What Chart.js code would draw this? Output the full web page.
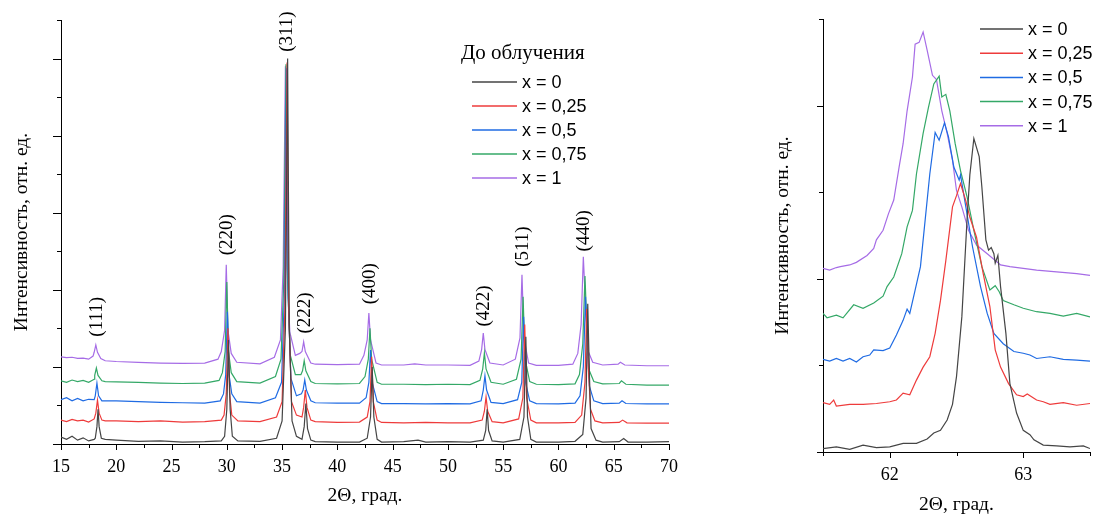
<!DOCTYPE html>
<html>
<head>
<meta charset="utf-8">
<script src="https://cdn.jsdelivr.net/npm/chart.js@4.4.1/dist/chart.umd.min.js"></script>
<style>
  body { margin: 0; background: #fff; overflow: hidden; }
  #left { position: absolute; left: 0; top: 0; width: 700px; height: 515px; }
  #right { position: absolute; left: 740px; top: 0; width: 362px; height: 515px; }
</style>
</head>
<body>
<div id="left"><canvas id="xrdFull"></canvas></div>
<div id="right"><canvas id="xrdZoom"></canvas></div>
<script>
// series names and colours
var seriesLabels = ['x = 0', 'x = 0,25', 'x = 0,5', 'x = 0,75', 'x = 1'];
var seriesColors = ['#454545', '#ee3b3b', '#1f6be3', '#34a867', '#a66ce6'];

// full pattern, 2Theta 15..70 (pairs [angle, intensity], offset curves)
var full0 = [[15,0.18],[15.5,0.12],[16,0.2],[16.5,0.1],[17,0.16],[17.5,0.08],[18,0.12],
  [18.1,0.15],[18.25,0.45],[18.35,0.9],[18.45,0.45],[18.65,0.15],
  [19,0.12],[20,0.1],[22,0.07],[24,0.08],[26,0.05],[28,0.06],[29.5,0.08],
  [29.8,0.2],[30.0,0.9],[30.15,2.7],[30.3,0.9],[30.5,0.2],
  [31,0.08],[33,0.07],[34.5,0.15],[35.0,0.6],
  [35.3,3.0],[35.5,10.0],[35.65,3.0],[35.9,0.6],[36.3,0.2],[36.8,0.12],
  [37.0,0.45],[37.15,1.05],[37.3,0.4],[37.6,0.1],
  [38,0.06],[40,0.05],[42,0.05],[42.7,0.15],
  [43.0,0.7],[43.15,2.0],[43.3,0.7],[43.6,0.12],
  [44,0.05],[46,0.06],[47.3,0.1],[48,0.05],[50,0.06],[52,0.05],[53.2,0.1],
  [53.42,0.35],[53.55,0.9],[53.68,0.35],[54,0.08],
  [55,0.05],[56.5,0.12],
  [56.88,0.7],[57.05,2.78],[57.2,0.7],[57.5,0.12],
  [58,0.05],[60,0.05],[61.5,0.07],[62.2,0.25],
  [62.5,1.2],[62.65,3.64],[62.8,1.8],[62.95,0.4],[63.4,0.1],
  [64,0.05],[65.5,0.06],[65.9,0.14],[66.3,0.05],[68,0.05],[70,0.06]];
var full1 = [[15,0.62],[15.5,0.58],[16,0.64],[16.5,0.6],[17,0.62],[17.5,0.57],[18,0.65],
  [18.15,0.8],[18.3,1.14],[18.45,0.8],[18.7,0.62],
  [19,0.6],[20,0.6],[22,0.58],[24,0.6],[26,0.57],[28,0.58],[29.5,0.62],
  [29.75,0.75],[29.95,1.3],[30.1,3.0],[30.25,1.3],[30.45,0.75],
  [31,0.6],[33,0.58],[34.5,0.7],[35.0,1.1],
  [35.25,3.5],[35.45,9.9],[35.6,3.5],[35.85,1.1],[36.3,0.75],[36.8,0.7],
  [36.95,0.95],[37.1,1.4],[37.25,0.95],[37.6,0.62],
  [38,0.58],[40,0.56],[42,0.57],[42.7,0.7],
  [42.95,1.1],[43.1,2.26],[43.25,1.1],[43.6,0.62],
  [44,0.56],[46,0.55],[48,0.56],[50,0.55],[52,0.55],[53.1,0.62],
  [53.3,0.85],[53.45,1.22],[53.6,0.85],[54,0.58],
  [55,0.55],[56.4,0.65],
  [56.78,1.2],[56.95,3.1],[57.12,1.2],[57.5,0.62],
  [58,0.55],[60,0.55],[61.5,0.56],[62.1,0.75],
  [62.4,1.6],[62.55,3.5],[62.7,2.0],[62.9,0.9],[63.3,0.6],
  [64,0.55],[65.5,0.56],[65.8,0.62],[66.2,0.55],[68,0.54],[70,0.54]];
var full2 = [[15,1.15],[15.5,1.2],[16,1.12],[16.5,1.18],[17,1.12],[17.5,1.16],[18,1.15],
  [18.1,1.25],[18.25,1.58],[18.4,1.25],[18.7,1.12],
  [19,1.12],[20,1.12],[22,1.1],[24,1.08],[26,1.07],[28,1.06],[29.4,1.12],
  [29.7,1.3],[29.9,1.8],[30.05,3.43],[30.2,1.8],[30.45,1.3],[30.9,1.1],
  [33,1.06],[34.4,1.2],[34.95,1.6],
  [35.2,3.8],[35.4,9.75],[35.55,3.8],[35.8,1.7],[36.3,1.25],[36.75,1.3],
  [36.9,1.4],[37.05,1.66],[37.2,1.4],[37.6,1.12],
  [38,1.07],[40,1.06],[42,1.06],[42.6,1.2],
  [42.85,1.6],[43.0,2.44],[43.15,1.6],[43.6,1.1],
  [44,1.05],[46,1.05],[48,1.04],[50,1.05],[52,1.04],[53.0,1.12],
  [53.2,1.4],[53.35,1.77],[53.5,1.4],[53.9,1.08],
  [55,1.05],[56.3,1.15],
  [56.68,1.6],[56.85,3.3],[57.02,1.6],[57.4,1.12],
  [58,1.05],[60,1.04],[61.5,1.06],[61.95,1.25],
  [62.25,2.0],[62.45,3.82],[62.6,2.6],[62.8,1.5],[63.2,1.12],
  [64,1.05],[65.5,1.06],[65.75,1.12],[66.1,1.05],[68,1.04],[70,1.04]];
var full3 = [[15,1.64],[15.5,1.6],[16,1.66],[16.5,1.62],[17,1.65],[17.5,1.6],[18,1.68],
  [18.05,1.78],[18.2,1.97],[18.35,1.78],[18.7,1.64],
  [19,1.62],[20,1.61],[22,1.6],[24,1.58],[26,1.57],[28,1.58],[29.3,1.65],
  [29.6,1.85],[29.85,2.4],[30.0,4.2],[30.15,2.4],[30.4,1.85],[30.9,1.62],
  [33,1.58],[34.4,1.75],[34.9,2.2],
  [35.15,4.2],[35.35,9.85],[35.5,4.2],[35.75,2.3],[36.2,1.8],[36.7,1.8],
  [36.85,1.9],[37.0,2.16],[37.15,1.9],[37.6,1.62],
  [38,1.57],[40,1.56],[42,1.57],[42.5,1.75],
  [42.8,2.2],[42.95,3.0],[43.1,2.2],[43.6,1.6],
  [44,1.55],[46,1.55],[48,1.54],[50,1.55],[52,1.54],[52.9,1.65],
  [53.15,1.95],[53.3,2.36],[53.45,1.95],[53.9,1.6],
  [55,1.55],[56.2,1.68],
  [56.62,2.2],[56.8,3.82],[56.98,2.2],[57.4,1.62],
  [58,1.55],[60,1.54],[61.5,1.56],[61.9,1.8],
  [62.2,2.6],[62.4,4.36],[62.55,3.2],[62.8,1.9],[63.2,1.62],
  [64,1.56],[65.5,1.57],[65.7,1.64],[66.1,1.55],[68,1.53],[70,1.53]];
var full4 = [[15,2.26],[15.5,2.24],[16,2.25],[16.5,2.22],[17,2.23],[17.5,2.2],[17.9,2.28],
  [18.0,2.38],[18.15,2.57],[18.3,2.38],[18.6,2.22],
  [19,2.16],[20,2.14],[22,2.12],[24,2.1],[26,2.09],[28,2.1],[29.2,2.2],
  [29.5,2.4],[29.8,2.95],[29.95,4.65],[30.1,2.95],[30.4,2.35],[30.9,2.12],
  [33,2.08],[34.3,2.25],[34.85,2.7],
  [35.1,4.6],[35.3,9.8],[35.45,4.6],[35.7,2.9],[36.2,2.3],[36.6,2.35],
  [36.8,2.4],[36.95,2.65],[37.1,2.4],[37.6,2.1],
  [38,2.07],[40,2.06],[42,2.07],[42.4,2.3],
  [42.7,2.7],[42.85,3.4],[43.0,2.7],[43.5,2.1],
  [44,2.05],[46,2.05],[47,2.08],[48,2.05],[50,2.05],[52,2.04],[52.8,2.15],
  [53.05,2.45],[53.2,2.88],[53.35,2.45],[53.8,2.1],
  [55,2.05],[56.1,2.2],
  [56.52,2.75],[56.7,4.39],[56.88,2.75],[57.3,2.1],
  [58,2.04],[60,2.04],[61.3,2.07],[61.75,2.35],
  [62.05,3.1],[62.25,4.86],[62.45,3.6],[62.7,2.4],[63.1,2.12],
  [64,2.05],[65.4,2.07],[65.6,2.12],[66,2.05],[68,2.03],[70,2.03]];

// zoom on the (440) reflection, 2Theta 61.5..63.5
var zoom0 = [[61.5,0.04],[61.6,0.06],[61.7,0.03],[61.8,0.08],[61.9,0.05],[62.0,0.06],[62.1,0.1],[62.2,0.1],
  [62.28,0.15],[62.33,0.22],[62.38,0.25],[62.43,0.37],[62.47,0.55],[62.5,0.87],[62.54,1.56],[62.58,2.71],
  [62.6,3.2],[62.63,3.62],[62.67,3.41],[62.69,3.06],[62.72,2.45],[62.74,2.33],[62.76,2.36],[62.78,2.29],
  [62.79,2.18],[62.81,2.27],[62.83,1.91],[62.87,1.37],[62.9,0.79],[62.95,0.45],[63.0,0.25],[63.05,0.2],
  [63.08,0.14],[63.15,0.08],[63.25,0.07],[63.35,0.06],[63.45,0.07],[63.5,0.04]];
var zoom1 = [[61.5,0.57],[61.55,0.55],[61.58,0.6],[61.6,0.53],[61.7,0.55],[61.8,0.55],[61.9,0.56],[62.0,0.58],
  [62.05,0.6],[62.1,0.68],[62.15,0.66],[62.2,0.83],[62.25,0.98],[62.3,1.1],[62.34,1.37],[62.38,1.75],
  [62.42,2.21],[62.47,2.83],[62.5,2.96],[62.53,3.1],[62.57,2.9],[62.6,2.71],[62.65,2.48],[62.7,2.06],
  [62.75,1.68],[62.79,1.18],[62.83,0.98],[62.89,0.79],[62.95,0.66],[63.0,0.64],[63.03,0.67],[63.1,0.6],
  [63.15,0.58],[63.2,0.55],[63.3,0.57],[63.4,0.54],[63.5,0.56]];
var zoom2 = [[61.5,1.07],[61.55,1.05],[61.6,1.08],[61.65,1.05],[61.7,1.08],[61.75,1.04],[61.8,1.1],[61.85,1.12],
  [61.88,1.18],[61.95,1.17],[62.0,1.2],[62.05,1.35],[62.1,1.52],[62.13,1.65],[62.15,1.6],[62.19,1.87],
  [62.23,2.14],[62.26,2.6],[62.3,3.21],[62.34,3.69],[62.37,3.6],[62.41,3.8],[62.44,3.64],[62.48,3.29],
  [62.52,3.14],[62.53,3.2],[62.57,2.83],[62.62,2.37],[62.68,1.91],[62.73,1.6],[62.78,1.37],[62.85,1.25],
  [62.93,1.16],[63.0,1.14],[63.05,1.12],[63.1,1.08],[63.2,1.1],[63.3,1.07],[63.4,1.06],[63.5,1.05]];
var zoom3 = [[61.5,1.6],[61.53,1.55],[61.6,1.58],[61.65,1.55],[61.73,1.7],[61.8,1.66],[61.88,1.72],[61.95,1.8],
  [61.98,1.91],[62.03,2.02],[62.09,2.29],[62.13,2.6],[62.17,2.79],[62.2,3.21],[62.25,3.68],[62.29,3.98],
  [62.33,4.25],[62.37,4.34],[62.39,4.1],[62.42,4.13],[62.45,3.94],[62.49,3.56],[62.53,3.25],[62.58,2.94],
  [62.63,2.56],[62.69,2.14],[62.75,1.87],[62.79,1.92],[62.82,1.85],[62.85,1.75],[62.93,1.7],[63.0,1.66],
  [63.1,1.62],[63.2,1.6],[63.3,1.57],[63.4,1.6],[63.5,1.56]];
var zoom4 = [[61.5,2.12],[61.55,2.1],[61.6,2.13],[61.63,2.14],[61.7,2.16],[61.75,2.19],[61.83,2.27],[61.88,2.35],
  [61.9,2.45],[61.95,2.56],[61.99,2.75],[62.03,2.91],[62.07,3.29],[62.1,3.56],[62.13,3.94],[62.17,4.33],
  [62.19,4.71],[62.22,4.73],[62.25,4.85],[62.28,4.64],[62.32,4.35],[62.35,4.3],[62.39,3.94],[62.43,3.68],
  [62.47,3.37],[62.5,3.02],[62.54,2.83],[62.59,2.56],[62.65,2.39],[62.73,2.29],[62.83,2.16],[62.9,2.14],
  [63.0,2.12],[63.1,2.1],[63.25,2.08],[63.4,2.06],[63.5,2.04]];

// Miller indices and where their labels sit (angle, level)
var peakNames = ['(111)', '(220)', '(311)', '(222)', '(400)', '(422)', '(511)', '(440)'];
var peakAngles = [18.26, 30.02, 35.44, 37.07, 42.95, 53.26, 56.79, 62.31];
var peakLevels = [3.3, 5.43, 10.7, 3.4, 4.16, 3.58, 5.12, 5.53];

// tick marks
var fullXTicks = [15, 17.5, 20, 22.5, 25, 27.5, 30, 32.5, 35, 37.5, 40, 42.5, 45, 47.5, 50, 52.5, 55, 57.5, 60, 62.5, 65, 67.5, 70];
var fullXMajor = [15, 20, 25, 30, 35, 40, 45, 50, 55, 60, 65, 70];
var fullYTicks = [0, 1, 2, 3, 4, 5, 6, 7, 8, 9, 10, 11];
var fullYMajor = [0, 2, 4, 6, 8, 10];
var zoomXTicks = [61.5, 62, 62.5, 63, 63.5];
var zoomXMajor = [62, 63];
var zoomYTicks = [0, 1, 2, 3, 4, 5];
var zoomYMajor = [0, 2, 4];

var SERIF = '"Liberation Serif", "Times New Roman", serif';
var SANS = '"Liberation Sans", Arial, sans-serif';

function toPoints(pairs) {
    return pairs.map(function(p) { return { x: p[0], y: p[1] }; });
}

function makeDatasets(list) {
    return list.map(function(pairs, i) {
        return {
            label: seriesLabels[i],
            data: toPoints(pairs),
            borderColor: seriesColors[i],
            borderWidth: 1.2,
            pointRadius: 0,
            tension: 0,
            fill: false
        };
    });
}

// small tick marks (major longer than minor), drawn outward
var tickMarks = {
    id: 'tickMarks',
    afterDraw: function(chart, args, o) {
        var ctx = chart.ctx, a = chart.chartArea;
        var xs = chart.scales.x, ys = chart.scales.y;
        ctx.save();
        ctx.strokeStyle = '#000';
        ctx.lineWidth = 1;
        ctx.beginPath();
        o.xTicks.forEach(function(v) {
            var px = Math.round(xs.getPixelForValue(v)) + 0.5;
            var len = o.xMajor.indexOf(v) >= 0 ? o.majorLen : o.minorLen;
            ctx.moveTo(px, a.bottom);
            ctx.lineTo(px, a.bottom + len);
        });
        o.yTicks.forEach(function(v) {
            var py = Math.round(ys.getPixelForValue(v)) + 0.5;
            var len = o.yMajor.indexOf(v) >= 0 ? o.yMajorLen : o.minorLen;
            ctx.moveTo(a.left, py);
            ctx.lineTo(a.left - len, py);
        });
        ctx.stroke();
        ctx.restore();
    }
};

// vertical hkl labels above peaks
var peakTags = {
    id: 'peakTags',
    afterDraw: function(chart, args, o) {
        if (!o.names) return;
        var ctx = chart.ctx;
        ctx.save();
        ctx.fillStyle = '#000';
        ctx.font = '19px ' + SERIF;
        ctx.textAlign = 'center';
        ctx.textBaseline = 'middle';
        o.names.forEach(function(name, i) {
            var px = chart.scales.x.getPixelForValue(o.angles[i]);
            var py = chart.scales.y.getPixelForValue(o.levels[i]);
            ctx.save();
            ctx.translate(px, py);
            ctx.rotate(-Math.PI / 2);
            ctx.fillText(name, 0, 0);
            ctx.restore();
        });
        ctx.restore();
    }
};

// legend placed freely inside the plot
var freeLegend = {
    id: 'freeLegend',
    afterDraw: function(chart, args, o) {
        var ctx = chart.ctx;
        ctx.save();
        if (o.title) {
            ctx.fillStyle = '#000';
            ctx.font = '21px ' + SERIF;
            ctx.textAlign = 'left';
            ctx.textBaseline = 'middle';
            ctx.fillText(o.title, o.titleX, o.titleY);
        }
        chart.data.datasets.forEach(function(ds, i) {
            var y = o.y + i * o.dy;
            ctx.strokeStyle = ds.borderColor;
            ctx.lineWidth = 1.5;
            ctx.beginPath();
            ctx.moveTo(o.x, y);
            ctx.lineTo(o.x + o.lineLen, y);
            ctx.stroke();
            ctx.fillStyle = '#000';
            ctx.font = '18px ' + SANS;
            ctx.textAlign = 'left';
            ctx.textBaseline = 'middle';
            ctx.fillText(ds.label, o.x + o.lineLen + 5, y + 1);
        });
        ctx.restore();
    }
};

function buildChart(id, datasets, cfg) {
    return new Chart(document.getElementById(id), {
        type: 'line',
        data: { datasets: datasets },
        options: {
            responsive: true,
            maintainAspectRatio: false,
            animation: false,
            layout: { padding: cfg.padding },
            scales: {
                x: {
                    type: 'linear',
                    min: cfg.xMin, max: cfg.xMax,
                    grid: { display: false, drawTicks: false },
                    border: { display: true, color: '#000', width: 1 },
                    ticks: {
                        stepSize: cfg.xStep,
                        autoSkip: false,
                        maxRotation: 0,
                        padding: 12,
                        color: '#000',
                        font: { family: SERIF, size: 18 },
                        callback: cfg.xLabel
                    },
                    title: {
                        display: true,
                        text: '2Θ, град.',
                        color: '#000',
                        font: { family: SERIF, size: 19.5, lineHeight: cfg.xTitleLine },
                        padding: { top: 0, bottom: cfg.xTitlePad }
                    },
                    afterFit: function(s) { s.height = cfg.xHeight; }
                },
                y: {
                    type: 'linear',
                    min: cfg.yMin, max: cfg.yMax,
                    grid: { display: false, drawTicks: false },
                    border: { display: true, color: '#000', width: 1 },
                    ticks: { display: false },
                    title: {
                        display: true,
                        text: 'Интенсивность, отн. ед.',
                        color: '#000',
                        font: { family: SERIF, size: 19.5 },
                        padding: { top: cfg.yTitlePad, bottom: 0 }
                    },
                    afterFit: function(s) { s.width = cfg.yWidth; }
                }
            },
            plugins: {
                legend: { display: false },
                tooltip: { enabled: false },
                tickMarks: cfg.ticks,
                peakTags: cfg.tags || {},
                freeLegend: cfg.legend
            }
        },
        plugins: [tickMarks, peakTags, freeLegend]
    });
}

buildChart('xrdFull', makeDatasets([full0, full1, full2, full3, full4]), {
    padding: { left: 0, right: 31, top: 20, bottom: 0 },
    xMin: 15, xMax: 70, xStep: 5,
    yMin: 0, yMax: 11,
    xLabel: function(v) { return v; },
    xHeight: 71, yWidth: 61,
    xTitleLine: 1.2, xTitlePad: 7, yTitlePad: 10,
    ticks: { xTicks: fullXTicks, xMajor: fullXMajor, yTicks: fullYTicks, yMajor: fullYMajor,
             majorLen: 6, yMajorLen: 8, minorLen: 4 },
    tags: { names: peakNames, angles: peakAngles, levels: peakLevels },
    legend: { title: 'До облучения', titleX: 461, titleY: 53, x: 472, y: 82, dy: 24, lineLen: 45 }
});

buildChart('xrdZoom', makeDatasets([zoom0, zoom1, zoom2, zoom3, zoom4]), {
    padding: { left: 0, right: 0, top: 19, bottom: 0 },
    xMin: 61.5, xMax: 63.5, xStep: 0.5,
    yMin: 0, yMax: 5,
    xLabel: function(v) { return Math.abs(v - Math.round(v)) < 1e-6 ? v : ''; },
    xHeight: 63, yWidth: 83,
    xTitleLine: 1, xTitlePad: 0, yTitlePad: 31,
    ticks: { xTicks: zoomXTicks, xMajor: zoomXMajor, yTicks: zoomYTicks, yMajor: zoomYMajor,
             majorLen: 6, yMajorLen: 6, minorLen: 4 },
    legend: { x: 240, y: 29, dy: 24.2, lineLen: 43 }
});
</script>
</body>
</html>
